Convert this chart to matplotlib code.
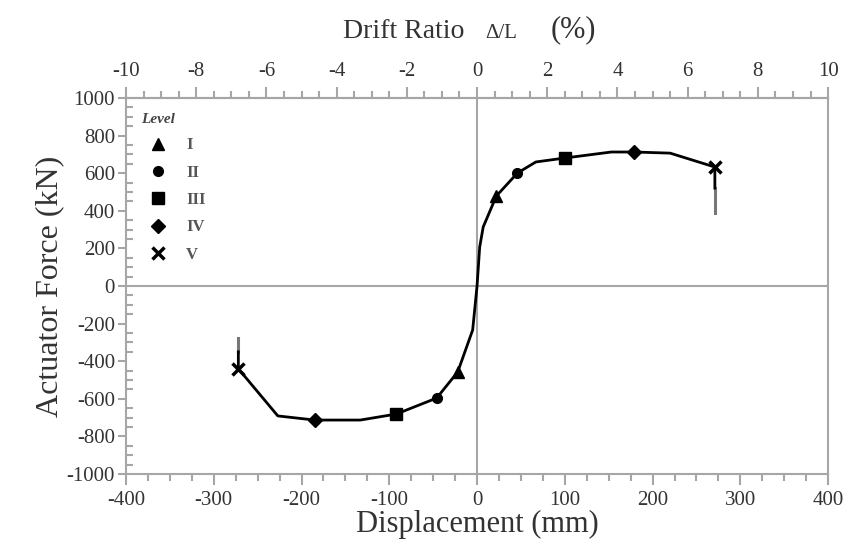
import numpy as np
import matplotlib.pyplot as plt
from matplotlib.lines import Line2D
from matplotlib.ticker import MultipleLocator, FixedLocator

plt.rcParams['font.family'] = ['Liberation Serif', 'DejaVu Serif']
plt.rcParams['axes.unicode_minus'] = False

# envelope of the load-displacement response
disp = [-272, -272, -227, -185, -133, -92, -46, -22, -5, 0, 3, 7, 22, 46, 67, 100, 153, 179, 220, 271, 271]
force = [-350, -440, -691, -713, -713, -681, -596, -457, -234, 0, 207, 314, 479, 601, 660, 681, 713, 713, 707, 633, 521]

# grey tails at the ends
tail_neg_x = [-272, -272]
tail_neg_y = [-277, -350]
tail_pos_x = [271, 271]
tail_pos_y = [521, 388]

# damage levels
levels = ['I', 'II', 'III', 'IV', 'V']
level_x = [[-22, 22], [-46, 46], [-92, 100], [-185, 179], [-272, 271]]
level_y = [[-457, 479], [-596, 601], [-681, 681], [-713, 713], [-440, 633]]
markers = ['^', 'o', 's', 'D', 'x']
msizes = [8, 7, 8, 7, 9]

drift_ticks = [-10, -8, -6, -4, -2, 0, 2, 4, 6, 8, 10]
L_mm = 4000.0

grey = '#a6a6a6'
txt = '#333333'

fig = plt.figure(figsize=(8.59, 5.54), dpi=100)
ax = fig.add_axes([0.1467, 0.1444, 0.8173, 0.6786])

ax.axhline(0, color=grey, lw=1.5, zorder=1)
ax.axvline(0, color=grey, lw=1.5, zorder=1)

ax.plot(tail_neg_x, tail_neg_y, color='#777777', lw=2.2, zorder=2)
ax.plot(tail_pos_x, tail_pos_y, color='#777777', lw=2.2, zorder=2)
ax.plot(disp, force, color='black', lw=2, zorder=3)

handles = []
for lab, xs, ys, m, s in zip(levels, level_x, level_y, markers, msizes):
    mew = 2.5 if m == 'x' else 1
    ax.plot(xs, ys, linestyle='none', marker=m, ms=s, color='black', mew=mew, zorder=4)
    handles.append(Line2D([], [], linestyle='none', marker=m, ms=s, color='black', mew=mew, label=lab))

leg = ax.legend(handles=handles, title='Level', loc='upper left', frameon=False,
                bbox_to_anchor=(0.0, 1.0), handletextpad=0.7, labelspacing=0.68,
                prop={'size': 12, 'weight': 'bold'},
                title_fontproperties={'size': 11, 'style': 'italic', 'weight': 'bold'})
leg._legend_box.align = 'left'
for t in leg.get_texts():
    t.set_color('#555555')
leg.get_title().set_color('#444444')

ax.set_xlim(-400, 400)
ax.set_ylim(-1000, 1000)
ax.xaxis.set_major_locator(MultipleLocator(100))
ax.xaxis.set_minor_locator(MultipleLocator(25))
ax.yaxis.set_major_locator(MultipleLocator(200))
ax.yaxis.set_minor_locator(MultipleLocator(50))

for sp in ax.spines.values():
    sp.set_color(grey)
    sp.set_linewidth(1.5)

ax.tick_params(axis='x', which='major', direction='out', length=8, width=1.5, color=grey,
               labelsize=15, labelcolor=txt, pad=4)
ax.tick_params(axis='x', which='minor', direction='out', length=5, width=1.5, color=grey)
ax.tick_params(axis='y', which='major', direction='out', length=6, width=1.5, color=grey,
               labelsize=15, labelcolor=txt, pad=2)
ax.tick_params(axis='y', which='minor', direction='in', length=5, width=1.5, color=grey)

ax.set_xlabel('Displacement (mm)', fontsize=22, color=txt, labelpad=0)
ax.set_ylabel('Actuator Force (kN)', fontsize=23, color=txt, labelpad=2)

top = ax.secondary_xaxis('top', functions=(lambda d: d / L_mm * 100, lambda r: r * L_mm / 100))
top.xaxis.set_major_locator(FixedLocator(drift_ticks))
top.xaxis.set_minor_locator(MultipleLocator(0.5))
top.spines['top'].set_color(grey)
top.spines['top'].set_linewidth(1.5)
top.tick_params(axis='x', which='major', direction='out', length=8, width=1.5, color=grey,
                labelsize=15, labelcolor=txt, pad=4)
top.tick_params(axis='x', which='minor', direction='out', length=5, width=1.5, color=grey)

fig.text(0.470, 0.932, 'Drift Ratio', fontsize=20, color=txt, ha='center', va='baseline')
fig.text(0.584, 0.932, '\u0394/L', fontsize=15, color=txt, ha='center', va='baseline')
fig.text(0.668, 0.932, '(%)', fontsize=22, color=txt, ha='center', va='baseline')

fig.savefig('out.png', dpi=100)
